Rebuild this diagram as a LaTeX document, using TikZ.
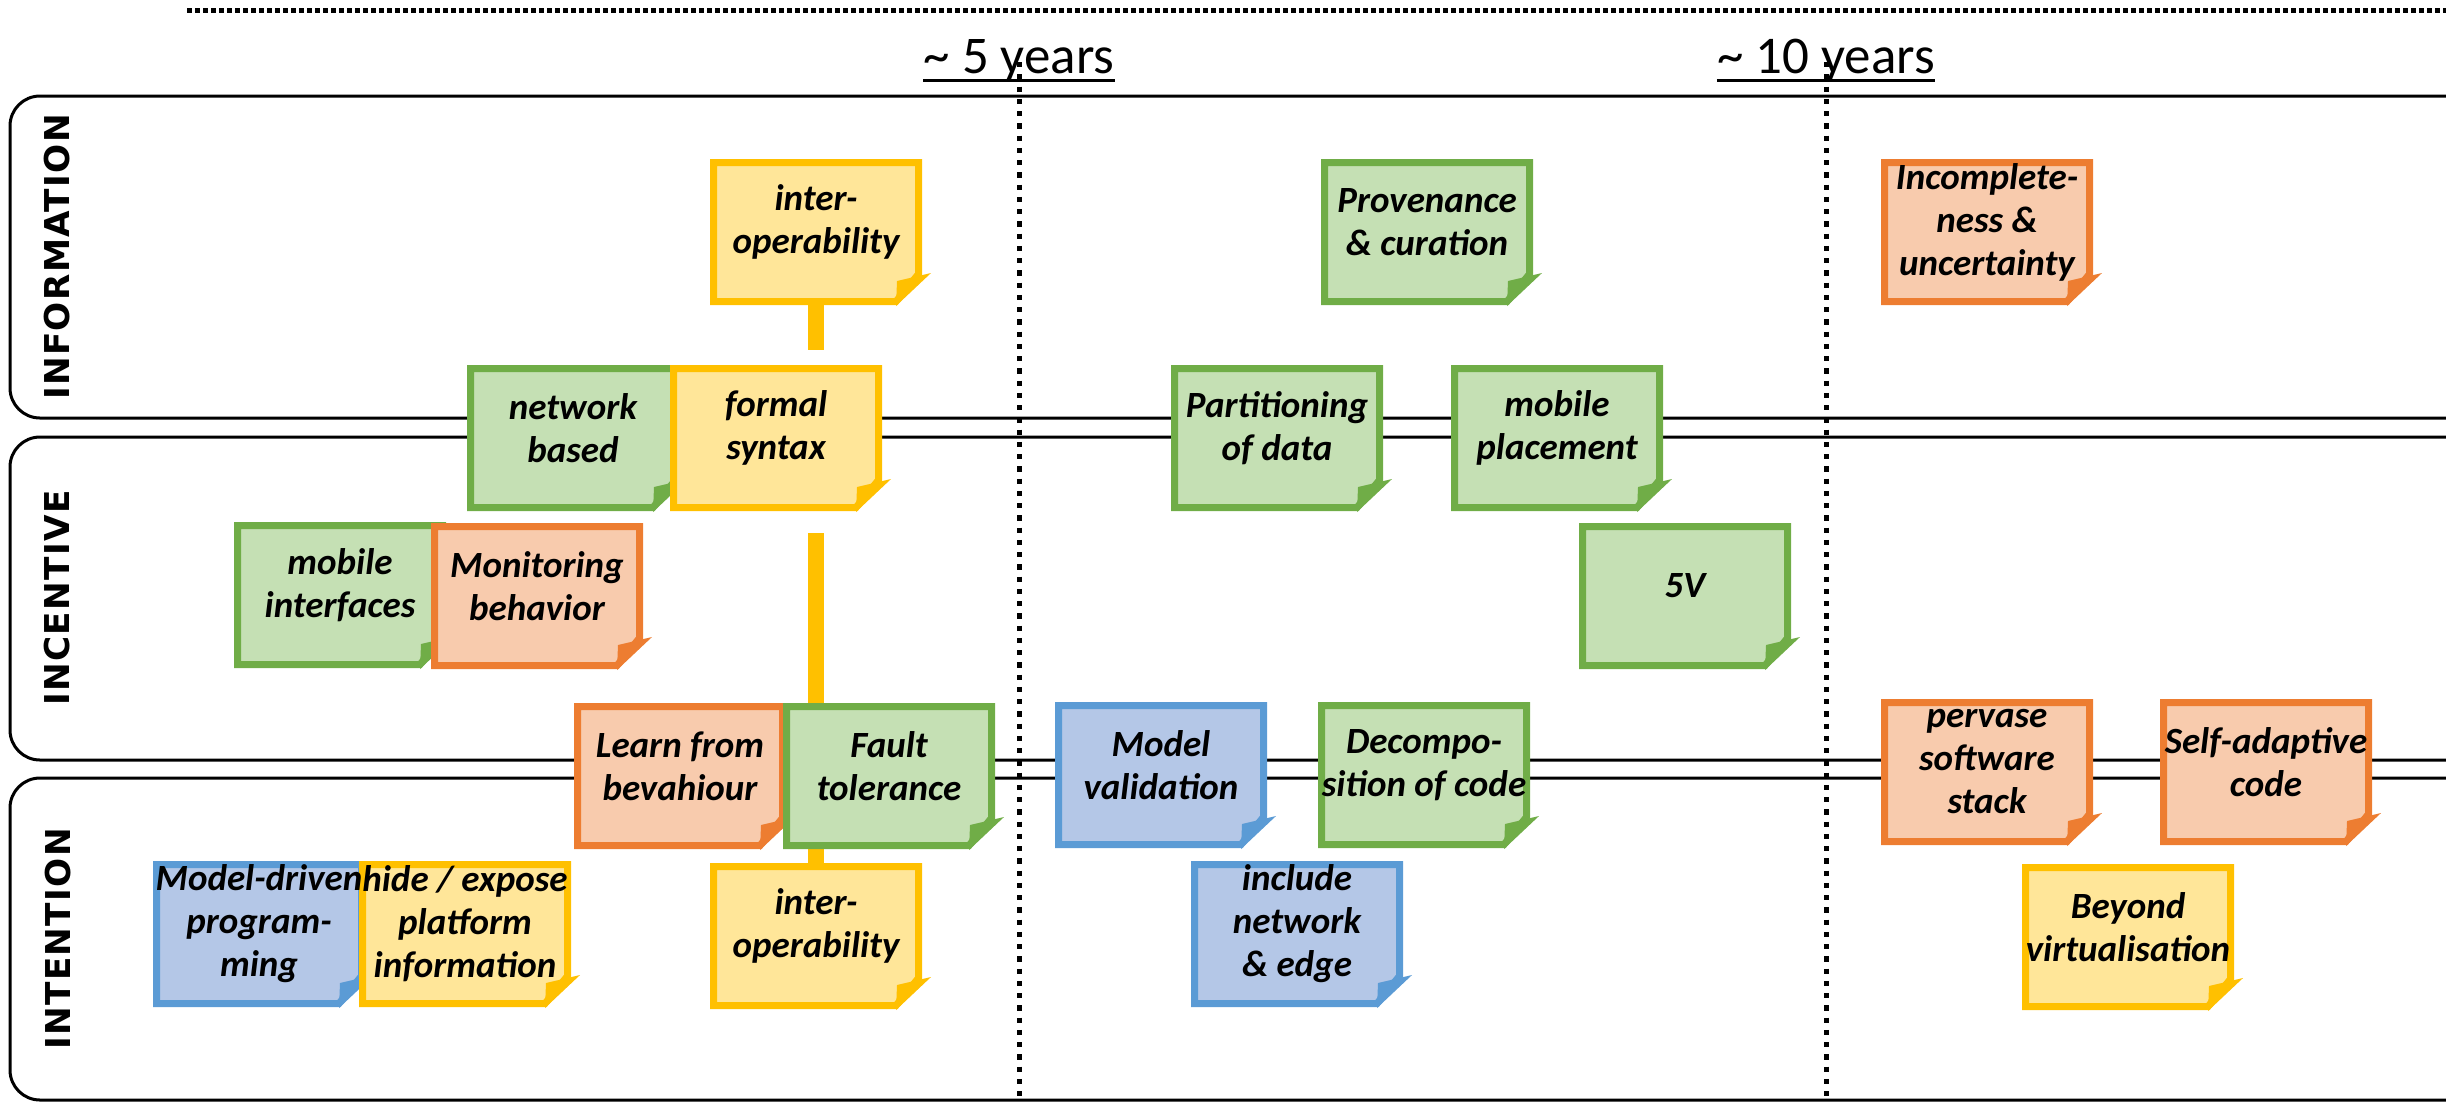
\documentclass[tikz,border=0pt]{standalone}
\usepackage{fontspec}
\usetikzlibrary{backgrounds}
\newfontfamily\notefont{Carlito}
\newfontfamily\yearfont{Carlito}
\newfontfamily\lanefont{DejaVu Sans}[LetterSpace=4]
\definecolor{yelline}{HTML}{FFC000}
\definecolor{yelfill}{HTML}{FFE699}
\definecolor{grnline}{HTML}{70AD47}
\definecolor{grnfill}{HTML}{C5E0B4}
\definecolor{orgline}{HTML}{ED7D31}
\definecolor{orgfill}{HTML}{F8CBAD}
\definecolor{bluline}{HTML}{5B9BD5}
\definecolor{blufill}{HTML}{B4C7E7}
\tikzset{
  notetext/.style={font=\notefont\bfseries\itshape\fontsize{14.8}{17.2}\selectfont, align=center, inner sep=0pt},
  lane/.style={draw, line width=1.2pt, rounded corners=12pt},
  lanelabel/.style={font=\lanefont\bfseries\fontsize{13.7}{16}\selectfont, rotate=90, inner sep=0pt},
  horizon/.style={font=\yearfont\fontsize{21.2}{25}\selectfont, inner sep=0pt, anchor=base},
  timeline/.style={line width=2pt, dash pattern=on 2.1pt off 2.8pt},
  link/.style={line width=6.4pt, yelline},
}

\begin{document}
\begin{tikzpicture}[x=0.4pt, y=-0.4pt]
\useasboundingbox (0,0) rectangle (2446,1102);
\node[lanelabel] (info) at (57, 257){INFORMATION};
\node[lanelabel] (incent) at (57, 598){INCENTIVE};
\node[lanelabel] (intent) at (58, 939){INTENTION};
\node[horizon] (yrs5) at (1019, 73){\textasciitilde{} 5 years};
\node[horizon] (yrs10) at (1826, 73){\textasciitilde{} 10 years};
\node[notetext] (iop1) at (816, 222){inter-\\operability};
\node[notetext] (nbased) at (573, 428){network\\based};
\node[notetext] (syntax) at (776, 428){formal\\syntax};
\node[notetext] (mobif) at (340, 585){mobile\\interfaces};
\node[notetext] (monitor) at (537, 586){Monitoring\\behavior};
\node[notetext] (learn) at (680, 766){Learn from\\bevahiour};
\node[notetext] (fault) at (889, 766){Fault\\tolerance};
\node[notetext] (mdriven) at (259, 924){Model-driven\\program-\\ming};
\node[notetext] (hide) at (465, 924){hide / expose\\platform\\information};
\node[notetext] (iop2) at (816, 926){inter-\\operability};
\node[notetext] (prov) at (1427, 222){Provenance\\\& curation};
\node[notetext] (incompl) at (1987, 222){Incomplete-\\ness \&\\uncertainty};
\node[notetext] (part) at (1277, 428){Partitioning\\of data};
\node[notetext] (mplace) at (1557, 428){mobile\\placement};
\node[notetext] (fivev) at (1685, 586){5V};
\node[notetext] (mval) at (1161, 765){Model\\validation};
\node[notetext] (decomp) at (1424, 765){Decompo-\\sition of code};
\node[notetext] (incl) at (1297, 924){include\\network\\\& edge};
\node[notetext] (pervase) at (1987, 762){pervase\\software\\stack};
\node[notetext] (selfad) at (2266, 762){Self-adaptive\\code};
\node[notetext] (beyond) at (2128, 927){Beyond\\virtualisation};
\coordinate (gapA) at (816, 350);
\coordinate (gapB) at (816, 533);
\draw[line width=2pt, dash pattern=on 1.8pt off 1.4pt] (187, 10) -- (2446, 10);
\draw[line width=1.2pt] ([yshift=-2.8pt]yrs5.base west) -- ([yshift=-2.8pt]yrs5.base east);
\draw[line width=1.2pt] ([yshift=-2.8pt]yrs10.base west) -- ([yshift=-2.8pt]yrs10.base east);
\draw[timeline] (1019, 62) -- (1019, 1102);
\draw[timeline] (1826, 62) -- (1826, 1102);
\begin{scope}[on background layer]
\draw[lane] (2480, 96) -- (10, 96) -- (10, 418) -- (2480, 418);
\draw[lane] (2480, 437) -- (10, 437) -- (10, 760) -- (2480, 760);
\draw[lane] (2480, 778) -- (10, 778) -- (10, 1100) -- (2480, 1100);
\draw[link] (iop1) -- (gapA);
\draw[link] (gapB) -- (iop2);
\foreach \n/\b/\f in {iop1/yelline/yelfill,
  nbased/grnline/grnfill, syntax/yelline/yelfill,
  mobif/grnline/grnfill, monitor/orgline/orgfill,
  learn/orgline/orgfill, fault/grnline/grnfill,
  mdriven/bluline/blufill, hide/yelline/yelfill,
  iop2/yelline/yelfill, prov/grnline/grnfill,
  incompl/orgline/orgfill, part/grnline/grnfill,
  mplace/grnline/grnfill, fivev/grnline/grnfill,
  mval/bluline/blufill, decomp/grnline/grnfill,
  incl/bluline/blufill, pervase/orgline/orgfill,
  selfad/orgline/orgfill, beyond/yelline/yelfill}{
  \draw[line width=2.8pt, line join=miter, draw=\b, fill=\f] ([shift={(-102.5,-59.5)}]\n.center) -- ++(205,0) -- ++(0,111.5) -- ++(-22.5,27.5) -- ++(-182.5,0) -- cycle;
  \fill[\b] ([shift={(81,59)}]\n.center) -- ++(34,-8) -- ++(-35,33) -- cycle;
}
\end{scope}
\end{tikzpicture}
\end{document}
